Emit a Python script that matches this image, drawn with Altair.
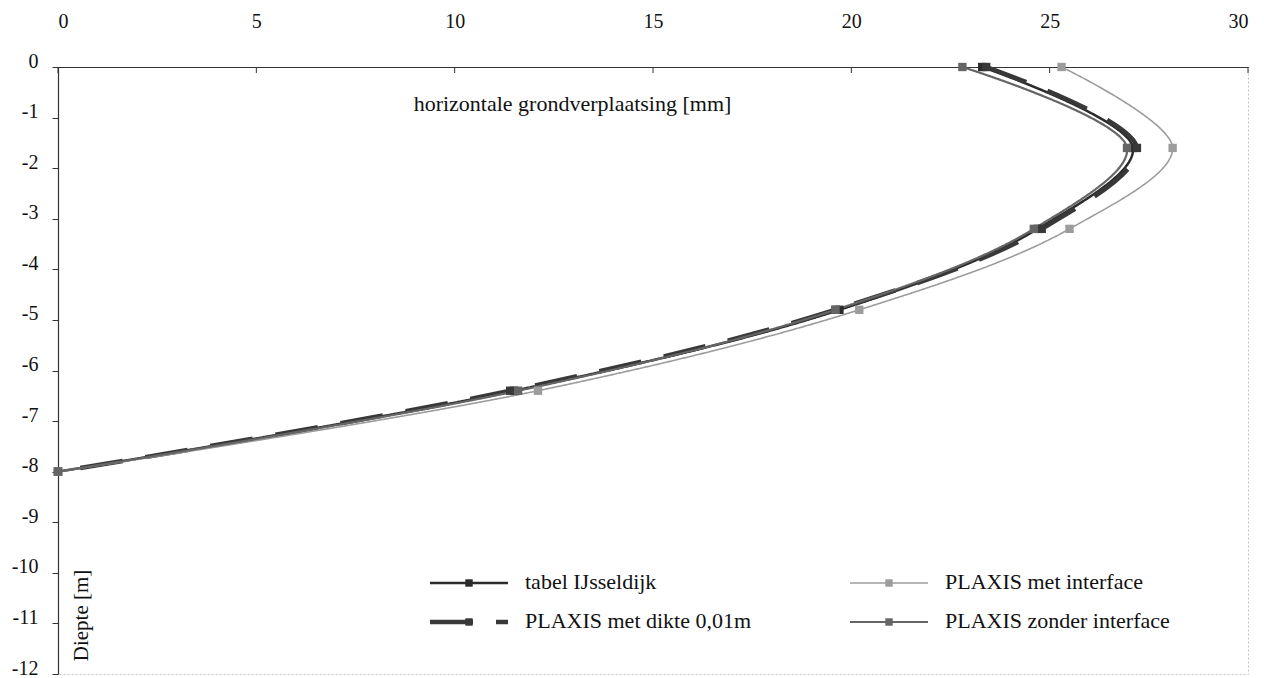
import altair as alt
import pandas as pd

# ---- data ----
depth = [0.0, -1.6, -3.2, -4.8, -6.4, -8.0]
series_names = [
    "tabel IJsseldijk",
    "PLAXIS met dikte 0,01m",
    "PLAXIS met interface",
    "PLAXIS zonder interface",
]
tabel_ijsseldijk = [23.3, 27.1, 24.7, 19.7, 11.5, 0.0]
plaxis_met_dikte = [23.4, 27.2, 24.8, 19.6, 11.4, 0.0]
plaxis_met_interface = [25.3, 28.1, 25.5, 20.2, 12.1, 0.0]
plaxis_zonder_interface = [22.8, 26.95, 24.6, 19.6, 11.6, 0.0]

x_ticks = [0, 5, 10, 15, 20, 25, 30]
y_ticks = [0, -1, -2, -3, -4, -5, -6, -7, -8, -9, -10, -11, -12]

series_values = [tabel_ijsseldijk, plaxis_met_dikte, plaxis_met_interface, plaxis_zonder_interface]
rows = []
for name, vals in zip(series_names, series_values):
    for i, (d, v) in enumerate(zip(depth, vals)):
        rows.append({"series": name, "depth": d, "disp": v, "order": i})
df = pd.DataFrame(rows)
tick_df = pd.DataFrame({"tick": x_ticks})

# ---- styles ----
FONT = "Liberation Serif"
colors = ["#2b2b2b", "#383838", "#9c9c9c", "#656565"]
dashes = [[1, 0], [43, 23], [1, 0], [1, 0]]
widths = [2.5, 4.5, 1.6, 2.2]

x_enc = alt.X(
    "disp:Q",
    scale=alt.Scale(domain=[0, 30], nice=False, zero=False),
    axis=alt.Axis(
        orient="top",
        values=x_ticks,
        title="horizontale grondverplaatsing [mm]",
        titleX=514,
        titleY=36,
        titleAlign="center",
        titleBaseline="middle",
        titleAngle=0,
        titleFontSize=22,
        labelPadding=36,
        ticks=False,
    ),
)
y_enc = alt.Y(
    "depth:Q",
    scale=alt.Scale(domain=[-12, 0], nice=False, zero=False),
    axis=alt.Axis(
        values=y_ticks,
        labelExpr="'' + datum.value",
        title="Diepte [m]",
        titleX=23,
        titleY=548,
        titleAngle=-90,
        titleAlign="center",
        titleBaseline="middle",
        titleFontSize=21,
        labelPadding=14,
        labelOffset=-6,
        tickSize=6,
    ),
)

lines = alt.Chart(df).mark_line(interpolate="catmull-rom").encode(
    x=x_enc,
    y=y_enc,
    order="order:Q",
    color=alt.Color("series:N", scale=alt.Scale(domain=series_names, range=colors), legend=None),
    strokeDash=alt.StrokeDash("series:N", scale=alt.Scale(domain=series_names, range=dashes), legend=None),
    strokeWidth=alt.StrokeWidth("series:N",
                                scale=alt.Scale(type="ordinal", domain=series_names, range=widths),
                                legend=None),
)

points = alt.Chart(df).mark_square(size=70, opacity=1, strokeWidth=0).encode(
    x="disp:Q",
    y="depth:Q",
    fill=alt.Fill("series:N", scale=alt.Scale(domain=series_names, range=colors), legend=None),
)

# inward-pointing ticks on the top x axis
x_tick_marks = alt.Chart(tick_df).mark_rule(color="#333333", strokeWidth=1).encode(
    x="tick:Q", y=alt.value(0), y2=alt.value(6)
)

# ---- legend (two columns, drawn as guide marks in pixel space) ----
leg_col_x = [372, 792]      # left end of symbol line, per column
leg_row_y = [516, 555]      # row centres
SYM_W = 78
TXT_GAP = 17
legend_layers = []
for k, name in enumerate(series_names):
    col, row = k // 2, k % 2
    x0 = leg_col_x[col]
    yy = leg_row_y[row]
    one = pd.DataFrame({"series": [name]})
    legend_layers.append(
        alt.Chart(one).mark_rule(
            color=colors[k], strokeWidth=widths[k], strokeDash=dashes[k]
        ).encode(x=alt.value(x0), x2=alt.value(x0 + SYM_W), y=alt.value(yy))
    )
    legend_layers.append(
        alt.Chart(one).mark_square(size=55, opacity=1, color=colors[k], strokeWidth=0)
        .encode(x=alt.value(x0 + SYM_W / 2), y=alt.value(yy))
    )
    legend_layers.append(
        alt.Chart(one).mark_text(
            align="left", baseline="middle", font=FONT, fontSize=22, color="#111111"
        ).encode(x=alt.value(x0 + SYM_W + TXT_GAP), y=alt.value(yy - 1), text="series:N")
    )

chart = (
    alt.layer(lines, points, x_tick_marks, *legend_layers)
    .properties(
        width=1190,
        height=607,
        autosize=alt.AutoSizeParams(type="none"),
        padding={"left": 50, "top": 59, "right": 8, "bottom": 4},
        background="white",
    )
    .configure_view(stroke="#c4c4c4", strokeDash=[2, 2], strokeWidth=1)
    .configure_axis(
        grid=False,
        domainColor="#333333",
        domainWidth=1.2,
        tickColor="#333333",
        labelFont=FONT,
        labelFontSize=20,
        labelColor="#111111",
        titleFont=FONT,
        titleFontSize=20,
        titleFontWeight="normal",
        titleColor="#111111",
    )
)

chart.save("out.html", embed_options={"renderer": "svg", "actions": False})
